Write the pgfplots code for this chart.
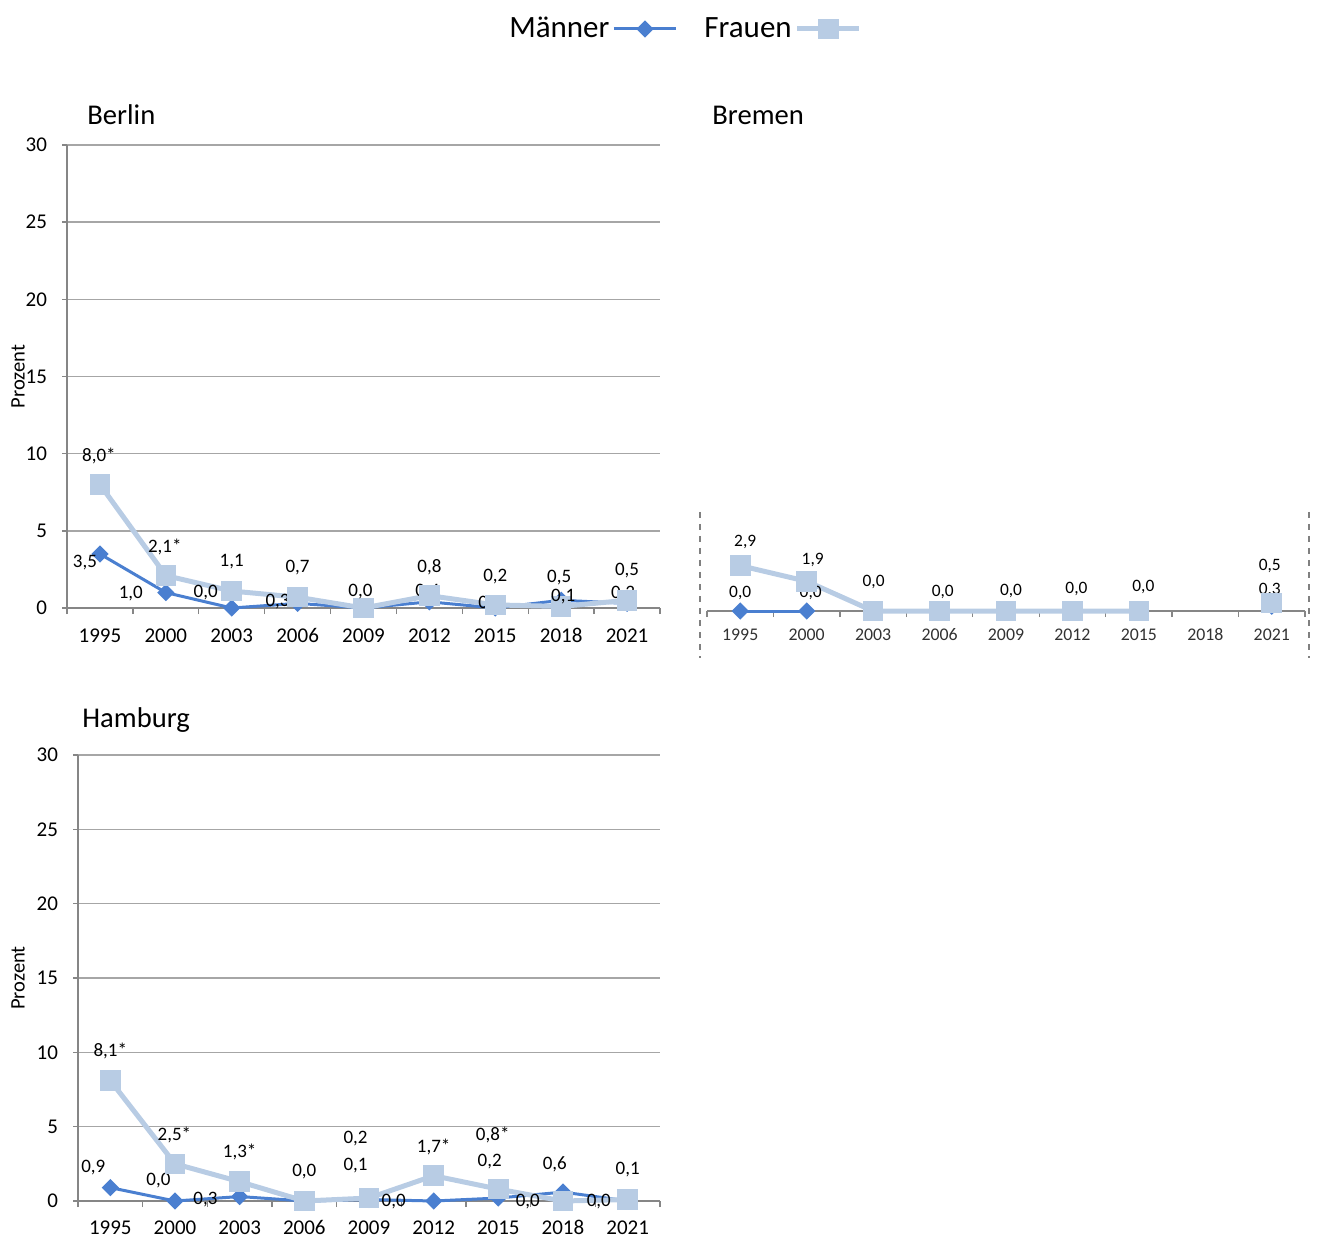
\documentclass[border=0pt]{standalone}
\usepackage{fontspec}
\setmainfont{Carlito}
\usepackage{pgfplots}
\usepackage{pgfplotstable}
\pgfplotsset{compat=1.18}
\definecolor{mcol}{RGB}{74,127,208}
\definecolor{fcol}{RGB}{184,204,228}
\definecolor{gridgray}{RGB}{166,166,166}
\definecolor{axgray}{RGB}{134,134,134}
\definecolor{brtext}{RGB}{50,50,50}

\pgfplotstableread{
x y lab dx dy
0 3.5 3,5 -7.5 -4.5
1 1.0 1,0 -17.5 -0.5
2 0.0 0,0 -13 7.5
3 0.3 0,3 -10 0.7
4 0.0 {} -1.5 8
5 0.4 0,4 -1 4.9
6 0.0 0,0 -2.5 2
7 0.5 0,5 -1 11.5
8 0.3 0,3 -2 4.7
}\berlinM
\pgfplotstableread{
x y lab dx dy
0 8.0 8,0* -0.5 14.3
1 2.1 2,1* -0.5 14.3
2 1.1 1,1 0 14.5
3 0.7 0,7 0 14.6
4 0.0 0,0 -1.5 8
5 0.8 0,8 0 14.35
6 0.2 0,2 0 14
7 0.1 0,1 1 4.75
8 0.5 0,5 0 14.65
}\berlinF
\pgfplotstableread{
x y lab dx dy
0 0.0 0,0 0 9
1 0.0 0,0 2 9
2 nan {} 0 0
3 nan {} 0 0
4 nan {} 0 0
5 nan {} 0 0
6 nan {} 0 0
7 nan {} 0 0
8 0.3 0,3 -1 8.15
}\bremenM
\pgfplotstableread{
x y lab dx dy
0 2.9 2,9 2.5 11.85
1 1.9 1,9 3 10.65
2 0.0 0,0 0.25 14.5
3 0.0 0,0 1.6 9.5
4 0.0 0,0 2.5 10
5 0.0 0,0 2 11
6 0.0 0,0 2.25 12
7 nan {} 0 0
8 0.5 0,5 -1 18.6
}\bremenF
\pgfplotstableread{
x y lab dx dy
0 0.9 0,9 -8.5 9.8
1 0.0 0,0 -8.3 10
2 0.3 0,3 -17.1 -1.75
3 0.0 {} 0 14.5
4 0.1 0,1 -6.7 16.75
5 0.0 0,0 -20 -0.5
6 0.2 0,2 -4.3 18
7 0.6 0,6 -4.1 14.05
8 0.0 0,0 -14.4 -0.5
}\hamburgM
\pgfplotstableread{
x y lab dx dy
0 8.1 8,1* 0 14.8
1 2.5 2,5* -0.3 14.4
2 1.3 1,3* 0 14.85
3 0.0 0,0 0 14.5
4 0.2 0,2 -6.7 29.5
5 1.7 1,7* 0 14.35
6 0.8 0,8* -2.8 27.05
7 0.0 0,0 -17.6 -0.5
8 0.1 0,1 0 14.75
}\hamburgF

\pgfplotsset{
  panel/.style={
    scale only axis, clip=false,
    anchor=south west,
    ymin=0, ymax=30, ytick={0,5,...,30},
    xmin=-0.5, xmax=8.5,
    xtick={0,...,8},
    xticklabels={1995,2000,2003,2006,2009,2012,2015,2018,2021},
    minor xtick={-0.5,0.5,...,8.5},
    major x tick style={draw=none},
    axis x line*=bottom, axis y line*=left,
    ymajorgrids, major grid style={gridgray, line width=0.7pt},
    axis line style={axgray, line width=0.8pt},
    every tick/.style={axgray, line width=0.7pt},
    tick align=outside, major tick length=2.5pt, minor tick length=3pt,
    /pgf/number format/assume math mode=true,
    tick label style={font=\fontsize{10.5}{12}\selectfont},
    xticklabel style={anchor=center, text height=6.6pt, text depth=0pt, inner sep=0pt},
    title style={font=\fontsize{14.3}{16}\selectfont, anchor=west, inner sep=0pt, yshift=-6pt},
    ylabel style={font=\fontsize{10.3}{12}\selectfont},
    unbounded coords=jump,
  },
  mser/.style={mcol, line width=1.5pt, mark=square*, mark size=2.3pt,
    mark options={rotate=45, solid, fill=mcol}},
  fser/.style={fcol, line width=2.5pt, mark=square*, mark size=3.9pt,
    mark options={solid, fill=fcol}},
  lbl/.style={nodes near coords, point meta=explicit symbolic,
    visualization depends on={\thisrow{dx}\as\ldx},
    visualization depends on={\thisrow{dy}\as\ldy},
    every node near coord/.append style={font=\fontsize{#1}{11}\selectfont, text=black, inner sep=0pt,
      anchor=center, xshift=\ldx pt, yshift=\ldy pt}},
}

\begin{document}
\begin{tikzpicture}
\path[use as bounding box] (0pt,0pt) rectangle (659.5pt,-620.5pt);

% Berlin
\begin{axis}[panel, at={(33.5pt,-304pt)}, width=296.5pt, height=231.5pt,
  title={Berlin}, title style={at={(axis description cs:0.0337,1.0648)}},
  ylabel={Prozent}, ylabel style={at={(axis description cs:-0.0826,0.5)}, anchor=center},
  yticklabel style={xshift=-4pt},
  xticklabel style={yshift=-11.5pt},
  legend plot pos=right,
  legend columns=2,
  legend style={at={(axis description cs:1.0405,1.2506)}, anchor=center, draw=none,
    font=\fontsize{15.5}{18}\selectfont, inner sep=0pt,
    /tikz/every even column/.append style={column sep=12pt},
    nodes={inner sep=1.5pt}},
  legend image code/.code={\draw[mark repeat=2,mark phase=2] plot coordinates {(0pt,0pt) (15.5pt,0pt) (31pt,0pt)};},
]
\addlegendimage{mser}
\addlegendentry{Männer}
\addlegendimage{fser}
\addlegendentry{Frauen}
\addplot[mser, lbl=9.5, forget plot] table[x=x,y=y,meta=lab]{\berlinM};
\addplot[fser, lbl=9.5, forget plot] table[x=x,y=y,meta=lab]{\berlinF};
\end{axis}

% Bremen
\begin{axis}[panel, at={(353.5pt,-305.5pt)}, width=299pt, height=234.5pt,
  axis y line=none, yticklabels={},
  title={Bremen}, title style={at={(axis description cs:0.0084,1.0576)}},
  tick label style={font=\fontsize{8.9}{10}\selectfont, text=brtext},
  xticklabel style={text height=5.6pt, yshift=-9.5pt},
]
\addplot[mser, lbl=8.7] table[x=x,y=y,meta=lab]{\bremenM};
\addplot[fser, lbl=8.7] table[x=x,y=y,meta=lab]{\bremenF};
\end{axis}
\draw[dashed, gray, line width=0.6pt] (350pt,-256pt) -- (350pt,-329pt);
\draw[dashed, gray, line width=0.6pt] (654.5pt,-256pt) -- (654.5pt,-329pt);

% Hamburg
\begin{axis}[panel, at={(39pt,-600.5pt)}, width=291pt, height=223pt,
  title={Hamburg}, title style={at={(axis description cs:0.0069,1.0785)}},
  ylabel={Prozent}, ylabel style={at={(axis description cs:-0.1031,0.5)}, anchor=center},
  yticklabel style={xshift=-4pt},
  xticklabel style={yshift=-11pt},
]
\addplot[mser, lbl=9.5] table[x=x,y=y,meta=lab]{\hamburgM};
\addplot[fser, lbl=9.5] table[x=x,y=y,meta=lab]{\hamburgF};
\end{axis}
\end{tikzpicture}
\end{document}
